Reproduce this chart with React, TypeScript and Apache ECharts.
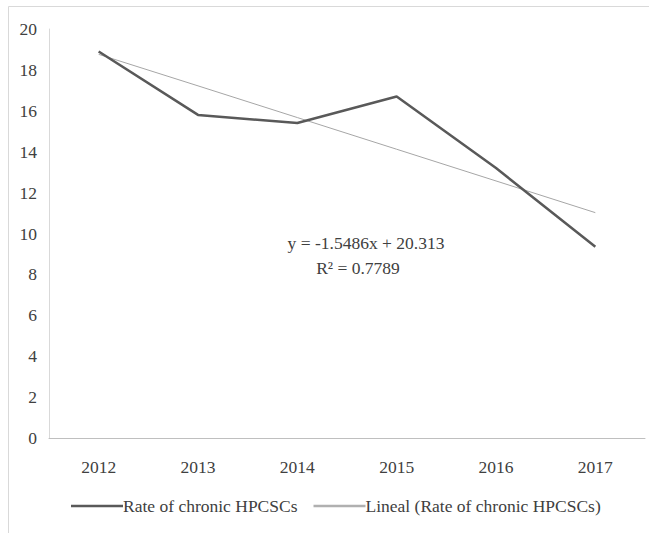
import React, { useEffect, useRef } from "react";
import * as echarts from "echarts";

const years = ["2012", "2013", "2014", "2015", "2016", "2017"];
const rateValues = [18.9, 15.8, 15.4, 16.7, 13.2, 9.35];
const trendValues = [18.76, 17.22, 15.67, 14.12, 12.57, 11.02];
const yTicks = [0, 2, 4, 6, 8, 10, 12, 14, 16, 18, 20];
const seriesNames = ["Rate of chronic HPCSCs", "Lineal (Rate of chronic HPCSCs)"];
const equationText = "y = -1.5486x + 20.313";
const r2Text = "R\u00B2 = 0.7789";

const FONT = "Liberation Serif";
const TEXT = "#404040";
const FS = 17.5;

export default function App() {
  const ref = useRef<HTMLDivElement>(null);
  useEffect(() => {
    if (!ref.current) return;
    const chart = echarts.init(ref.current, undefined, { renderer: "svg" });
    chart.setOption({
      animation: false,
      backgroundColor: "#ffffff",
      textStyle: { fontFamily: FONT, color: TEXT },
      grid: { left: 49, top: 29, width: 596, height: 409, containLabel: false },
      xAxis: {
        type: "category",
        data: years,
        boundaryGap: true,
        axisLine: { show: true, lineStyle: { color: "#bfbfbf", width: 1 } },
        axisTick: { show: false },
        axisLabel: { fontFamily: FONT, fontSize: FS, color: TEXT, margin: 20 },
      },
      yAxis: {
        type: "value",
        min: yTicks[0],
        max: yTicks[yTicks.length - 1],
        interval: 2,
        axisLine: { show: true, lineStyle: { color: "#d9d9d9", width: 1 } },
        axisTick: { show: false },
        splitLine: { show: false },
        axisLabel: { fontFamily: FONT, fontSize: FS, color: TEXT, margin: 12 },
      },
      legend: {
        bottom: 13,
        left: 66,
        itemGap: 16,
        itemWidth: 52,
        itemHeight: 2.5,
        icon: "rect",
        textStyle: { fontFamily: FONT, fontSize: FS, color: TEXT, padding: [0, 0, 0, -5] },
        data: [
          { name: seriesNames[0], itemStyle: { color: "#595959" } },
          { name: seriesNames[1], itemStyle: { color: "#b0b0b0" } },
        ],
      },
      graphic: [
        { type: "line", shape: { x1: 8.5, y1: 6.5, x2: 649, y2: 6.5 }, style: { stroke: "#d9d9d9", lineWidth: 1 } },
        { type: "line", shape: { x1: 8.5, y1: 6.5, x2: 8.5, y2: 533 }, style: { stroke: "#d9d9d9", lineWidth: 1 } },
        {
          type: "text",
          x: 366,
          y: 243,
          style: { text: equationText, font: `${FS}px "${FONT}"`, fill: TEXT, textAlign: "center", textVerticalAlign: "middle" },
        },
        {
          type: "text",
          x: 358,
          y: 268,
          style: { text: r2Text, font: `${FS}px "${FONT}"`, fill: TEXT, textAlign: "center", textVerticalAlign: "middle" },
        },
      ],
      series: [
        {
          name: seriesNames[0],
          type: "line",
          data: rateValues,
          symbol: "none",
          lineStyle: { color: "#595959", width: 2.5 },
          itemStyle: { color: "#595959" },
          z: 3,
        },
        {
          name: seriesNames[1],
          type: "line",
          data: trendValues,
          symbol: "none",
          lineStyle: { color: "#a6a6a6", width: 1 },
          itemStyle: { color: "#a6a6a6" },
          z: 2,
        },
      ],
    });
    return () => chart.dispose();
  }, []);
  return (
    <div
      ref={ref}
      style={{ position: "fixed", left: 0, top: 0, width: 649, height: 533, background: "#fff" }}
    />
  );
}
